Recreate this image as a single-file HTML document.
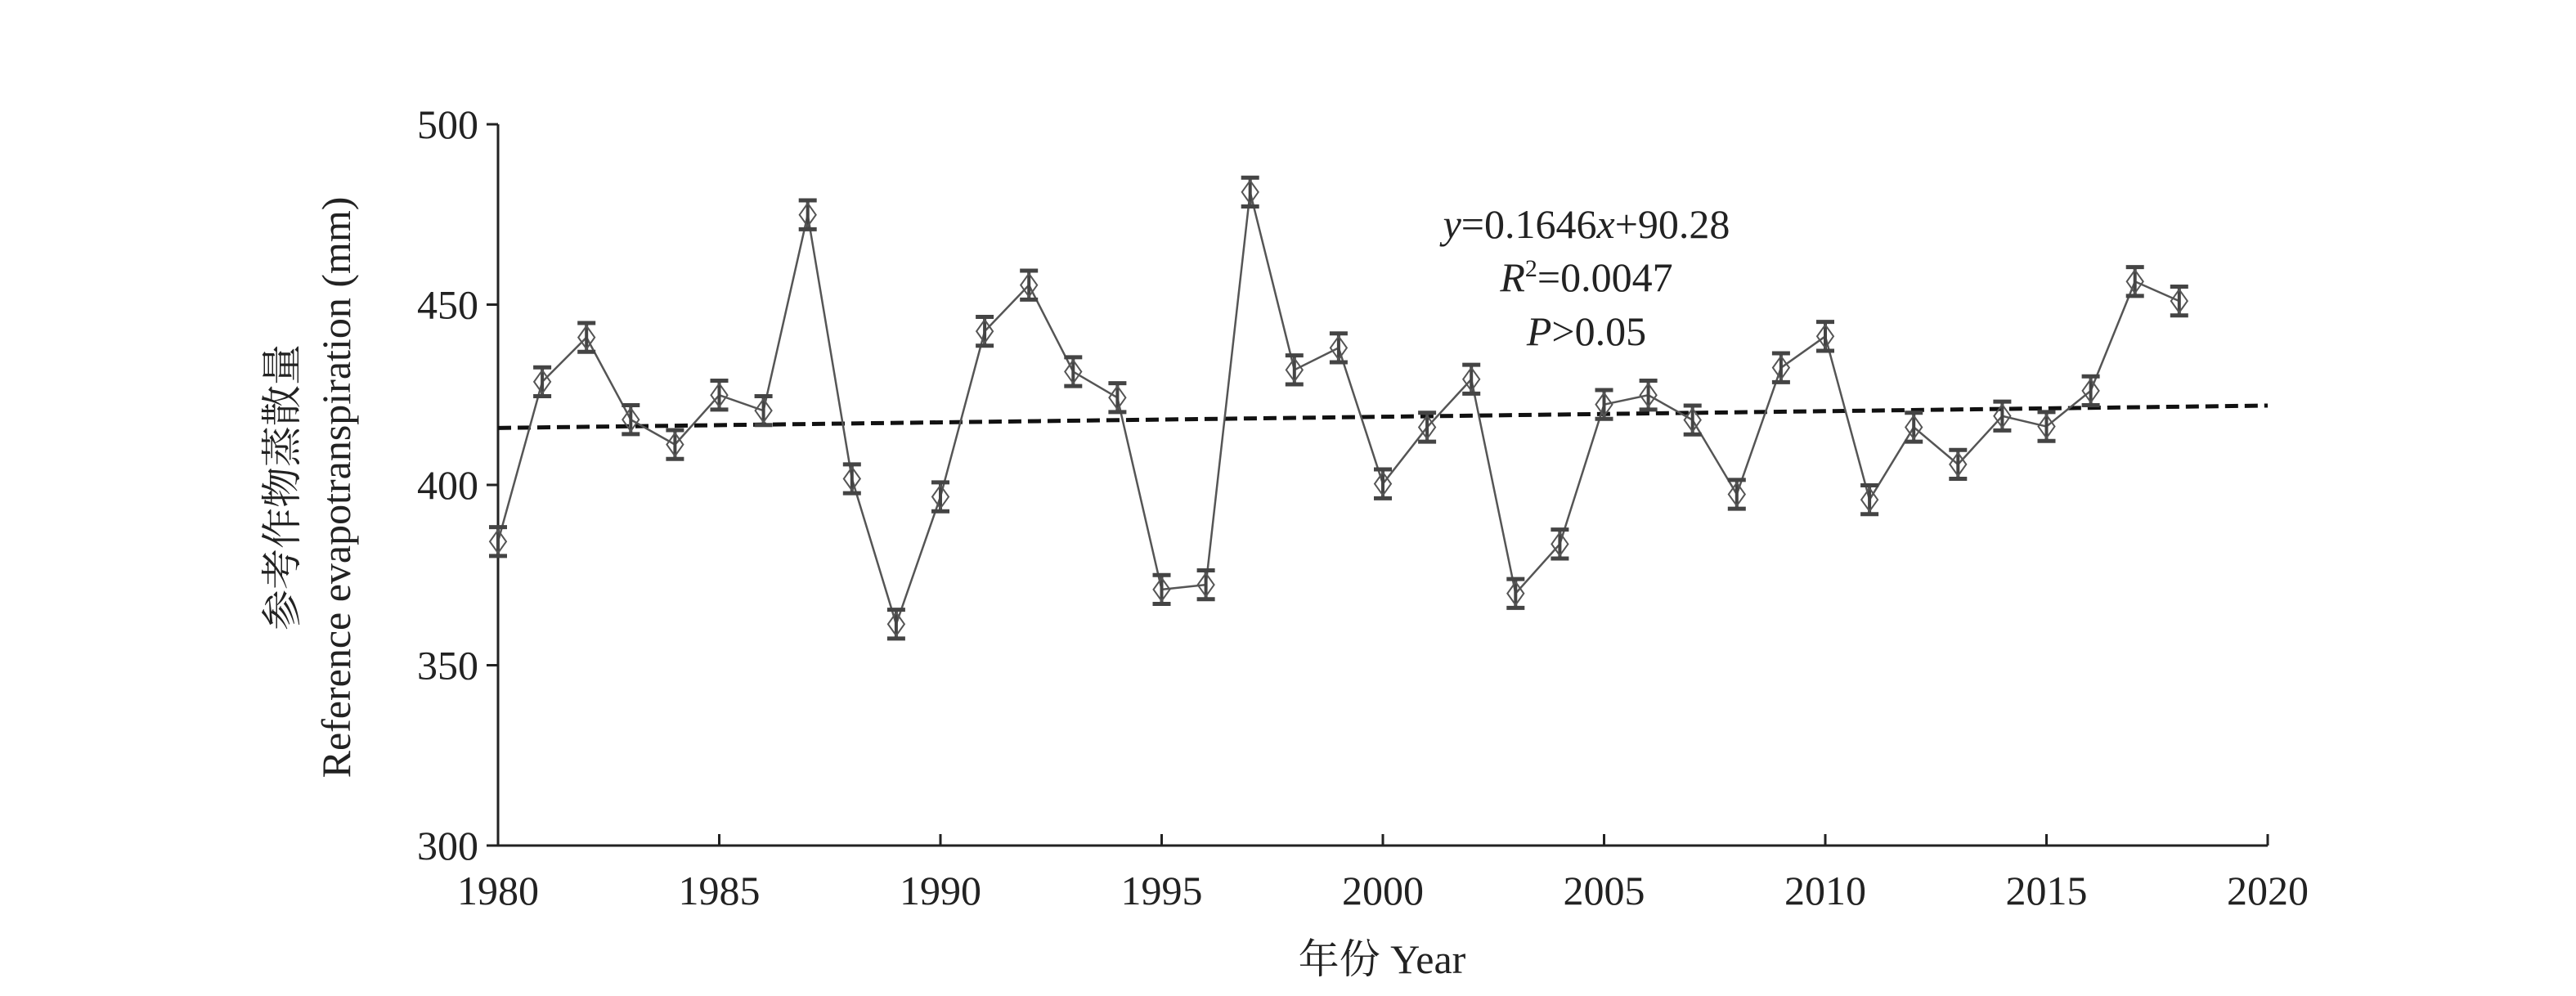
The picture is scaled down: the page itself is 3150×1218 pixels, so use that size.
<!DOCTYPE html>
<html><head><meta charset="utf-8"><style>
html,body{margin:0;padding:0;background:#fff;}
svg{display:block;font-family:"Liberation Serif","Noto Serif CJK SC",serif;}
</style></head><body>
<svg id="chart" width="3150" height="1218" viewBox="0 0 3150 1218" xmlns="http://www.w3.org/2000/svg">
<rect width="3150" height="1218" fill="#fff"/>
<g id="axes"></g>
<g id="marks"></g>
<text transform="translate(362,596) rotate(-90)" text-anchor="middle" font-size="50" fill="#222">参考作物蒸散量</text>
<text transform="translate(428,596) rotate(-90)" text-anchor="middle" font-size="50" fill="#222">Reference evapotranspiration (mm)</text>
<text x="1690" y="1190" text-anchor="middle" font-size="50" fill="#222">年份 Year</text>
<g font-size="50" fill="#222" text-anchor="middle">
<text x="1940" y="291"><tspan font-style="italic">y</tspan>=0.1646<tspan font-style="italic">x</tspan>+90.28</text>
<text x="1940" y="356"><tspan font-style="italic">R</tspan><tspan font-size="30" dy="-18">2</tspan><tspan dy="18">=0.0047</tspan></text>
<text x="1940" y="422"><tspan font-style="italic">P</tspan>&gt;0.05</text>
</g>
</svg>
<script>
const years=[1980,1981,1982,1983,1984,1985,1986,1987,1988,1989,1990,1991,1992,1993,1994,1995,1996,1997,1998,1999,2000,2001,2002,2003,2004,2005,2006,2007,2008,2009,2010,2011,2012,2013,2014,2015,2016,2017,2018];
const values=[384.3,428.6,440.9,418.1,411.2,424.9,420.6,474.9,401.7,361.4,396.7,442.6,455.4,431.4,424.2,371.0,372.3,481.2,431.9,438.0,400.3,416.0,429.3,369.9,383.6,422.3,424.9,418.0,397.4,432.5,441.2,395.9,416.0,405.7,419.1,416.2,426.1,456.4,451.0];
const errors=[4,4,4,4,4,4,4,4,4,4,4,4,4,4,4,4,4,4,4,4,4,4,4,4,4,4,4,4,4,4,4,4,4,4,4,4,4,4,4];
const yTicks=[300,350,400,450,500];
const xTicks=[1980,1985,1990,1995,2000,2005,2010,2015,2020];
const trendStart=[1980,415.8];
const trendEnd=[2020,422.0];

const X0=609,X1=2773,Y0=1034,Y1=152;
const xs=v=>X0+(v-1980)/(2020-1980)*(X1-X0);
const ys=v=>Y0-(v-300)/(500-300)*(Y0-Y1);
const NS="http://www.w3.org/2000/svg";
function mk(tag,attrs,parent){const e=document.createElementNS(NS,tag);for(const k in attrs)e.setAttribute(k,attrs[k]);parent.appendChild(e);return e;}
const axes=document.getElementById('axes'),marks=document.getElementById('marks');

let e=mk('line',{x1:X0,y1:Y1,x2:X0,y2:Y0,stroke:'#222','stroke-width':3},axes);


e=mk('line',{x1:X0,y1:Y0,x2:X1,y2:Y0,stroke:'#222','stroke-width':3},axes);


yTicks.forEach(t=>{
 let l=mk('line',{x1:X0-14,y1:ys(t),x2:X0,y2:ys(t),stroke:'#222','stroke-width':3},axes);
 
 
 let tx=mk('text',{x:X0-24,y:ys(t)+17,'text-anchor':'end','font-size':50,fill:'#222'},axes);
 tx.textContent=t;
 
 
});
xTicks.forEach(t=>{
 let l=mk('line',{x1:xs(t),y1:Y0,x2:xs(t),y2:Y0-14,stroke:'#222','stroke-width':3},axes);
 
 
 let tx=mk('text',{x:xs(t),y:Y0+72,'text-anchor':'middle','font-size':50,fill:'#222'},axes);
 tx.textContent=t;
 
 
});
// trend line
e=mk('line',{x1:xs(trendStart[0]),y1:ys(trendStart[1]),x2:xs(trendEnd[0]),y2:ys(trendEnd[1]),stroke:'#111','stroke-width':5,'stroke-dasharray':'16 8'},marks);


// series line
e=mk('polyline',{points:years.map((y,i)=>xs(y)+','+ys(values[i])).join(' '),fill:'none',stroke:'#555','stroke-width':2.5},marks);


years.forEach((y,i)=>{
 const cx=xs(y),cy=ys(values[i]),top=ys(values[i]+errors[i]),bot=ys(values[i]-errors[i]);
 const g=mk('g',{},marks);
 
 
 mk('line',{x1:cx,y1:top,x2:cx,y2:bot,stroke:'#444','stroke-width':4},g);
 mk('line',{x1:cx-11,y1:top,x2:cx+11,y2:top,stroke:'#444','stroke-width':5},g);
 mk('line',{x1:cx-11,y1:bot,x2:cx+11,y2:bot,stroke:'#444','stroke-width':5},g);
 mk('polygon',{points:`${cx},${cy-14} ${cx+10},${cy} ${cx},${cy+14} ${cx-10},${cy}`,fill:'none',stroke:'#555','stroke-width':2},g);
});
</script>
</body></html>
